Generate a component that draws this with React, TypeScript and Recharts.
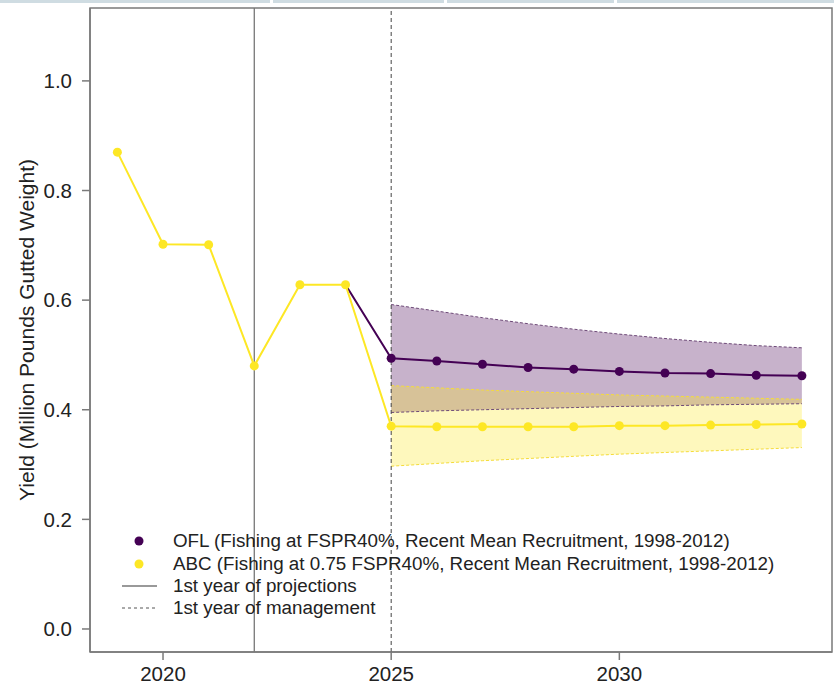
import { ComposedChart, Line, Area, XAxis, YAxis, ReferenceLine, ReferenceArea } from "recharts";

const font = "'Liberation Sans', Arial, sans-serif";
const purple = "#440154";
const yellow = "#fde725";

const years = [2019, 2020, 2021, 2022, 2023, 2024, 2025, 2026, 2027, 2028, 2029, 2030, 2031, 2032, 2033, 2034];
const abc = [0.87, 0.702, 0.701, 0.48, 0.628, 0.628, 0.37, 0.369, 0.369, 0.369, 0.369, 0.371, 0.371, 0.372, 0.373, 0.374];
const ofl = [null, null, null, null, null, 0.628, 0.494, 0.489, 0.483, 0.477, 0.474, 0.47, 0.467, 0.466, 0.463, 0.462];
const oflLow = [null, null, null, null, null, null, 0.395, 0.398, 0.4, 0.402, 0.404, 0.406, 0.407, 0.409, 0.41, 0.411];
const oflHigh = [null, null, null, null, null, null, 0.592, 0.58, 0.568, 0.557, 0.547, 0.538, 0.53, 0.523, 0.517, 0.513];
const abcLow = [null, null, null, null, null, null, 0.297, 0.302, 0.307, 0.311, 0.315, 0.319, 0.322, 0.325, 0.328, 0.331];
const abcHigh = [null, null, null, null, null, null, 0.444, 0.44, 0.436, 0.433, 0.43, 0.427, 0.425, 0.423, 0.421, 0.419];

const xDomain = [2018.4, 2034.66];
const yDomain = [-0.042, 1.133];
const xTicks = [2020, 2025, 2030];
const yTicks = [0, 0.2, 0.4, 0.6, 0.8, 1.0];
const projectionYear = 2022;
const managementYear = 2025;

const legendItems = [
  { kind: "dot", color: purple, label: "OFL (Fishing at FSPR40%, Recent Mean Recruitment, 1998-2012)" },
  { kind: "dot", color: yellow, label: "ABC (Fishing at 0.75 FSPR40%, Recent Mean Recruitment, 1998-2012)" },
  { kind: "solid", color: "#777", label: "1st year of projections" },
  { kind: "dashed", color: "#555", label: "1st year of management" },
];

const rows = years.map((year, i) => ({
  year,
  abc: abc[i],
  ofl: ofl[i],
  oflLow: oflLow[i],
  oflHigh: oflHigh[i],
  abcLow: abcLow[i],
  abcHigh: abcHigh[i],
  oflBand: oflLow[i] != null ? [oflLow[i], oflHigh[i]] : null,
  abcBand: abcLow[i] != null ? [abcLow[i], abcHigh[i]] : null,
}));

const axisColor = "#7a7a7a";
const tickStyle = { fill: "#222", fontSize: 20.5, fontFamily: font };

function OflDot(props: any) {
  const { cx, cy, payload, index } = props;
  if (payload.year < managementYear || cy == null) return <g key={`o${index}`} />;
  return <circle key={`o${index}`} cx={cx} cy={cy} r={4.5} fill={purple} />;
}

function Legend() {
  return (
    <div style={{ position: "absolute", left: 118, top: 530, fontFamily: font, fontSize: 18.8, color: "#222" }}>
      {legendItems.map((it) => (
        <div key={it.label} style={{ display: "flex", alignItems: "center", height: 22.4, whiteSpace: "nowrap" }}>
          <svg width={55} height={22} style={{ flex: "none" }}>
            {it.kind === "dot" && <circle cx={21} cy={11} r={4.5} fill={it.color} />}
            {it.kind === "solid" && <line x1={4} x2={39} y1={11} y2={11} stroke={it.color} strokeWidth={1.3} />}
            {it.kind === "dashed" && <line x1={4} x2={39} y1={11} y2={11} stroke={it.color} strokeWidth={1} strokeDasharray="3 3" />}
          </svg>
          <span>{it.label}</span>
        </div>
      ))}
    </div>
  );
}

export default function App() {
  return (
    <div style={{ position: "absolute", left: 0, top: 0, width: 834, height: 685, background: "#fff" }}>
      <div style={{ position: "absolute", top: 0, left: 0, width: 270, height: 3, background: "#cfdce2" }} />
      <div style={{ position: "absolute", top: 0, left: 273, width: 171, height: 3, background: "#cfdce2" }} />
      <div style={{ position: "absolute", top: 0, left: 447, width: 167, height: 3, background: "#cfdce2" }} />
      <div style={{ position: "absolute", top: 0, left: 617, width: 217, height: 3, background: "#cfdce2" }} />
      <ComposedChart width={834} height={685} data={rows} margin={{ top: 8, right: 2, bottom: 0, left: 0 }}>
        <XAxis
          dataKey="year"
          type="number"
          domain={xDomain}
          ticks={xTicks}
          allowDataOverflow
          height={33}
          tickSize={8}
          tickMargin={6}
          tick={tickStyle}
          stroke={axisColor}
          strokeWidth={1.5}
        />
        <YAxis
          type="number"
          domain={yDomain}
          ticks={yTicks}
          allowDataOverflow
          width={90}
          tickSize={8}
          tickMargin={10}
          tick={tickStyle}
          tickFormatter={(v: number) => v.toFixed(1)}
          stroke={axisColor}
          strokeWidth={1.5}
          label={{
            value: "Yield (Million Pounds Gutted Weight)",
            angle: -90,
            position: "insideLeft",
            offset: 27,
            style: { textAnchor: "middle", fill: "#222", fontSize: 21, fontFamily: font },
          }}
        />
        <ReferenceArea
          x1={xDomain[0]}
          x2={xDomain[1]}
          y1={yDomain[0]}
          y2={yDomain[1]}
          fill="none"
          fillOpacity={0}
          stroke={axisColor}
          strokeWidth={1.5}
          ifOverflow="visible"
        />
        <Area dataKey="oflBand" stroke="none" fill={purple} fillOpacity={0.3} isAnimationActive={false} />
        <Area dataKey="abcBand" stroke="none" fill={yellow} fillOpacity={0.3} isAnimationActive={false} />
        <Line dataKey="oflHigh" stroke="#6e4a78" strokeWidth={1} strokeDasharray="3 2" dot={false} isAnimationActive={false} />
        <Line dataKey="oflLow" stroke="#6e4a78" strokeWidth={1} strokeDasharray="3 2" dot={false} isAnimationActive={false} />
        <Line dataKey="abcHigh" stroke="#f5dc3a" strokeWidth={1} strokeDasharray="3 2" dot={false} isAnimationActive={false} />
        <Line dataKey="abcLow" stroke="#f5dc3a" strokeWidth={1} strokeDasharray="3 2" dot={false} isAnimationActive={false} />
        <ReferenceLine x={projectionYear} stroke="#777" strokeWidth={1.3} />
        <ReferenceLine x={managementYear} stroke="#444" strokeWidth={1} strokeDasharray="4 3" />
        <Line dataKey="ofl" stroke={purple} strokeWidth={2} dot={OflDot} activeDot={false} isAnimationActive={false} />
        <Line dataKey="abc" stroke={yellow} strokeWidth={2} dot={{ r: 4.5, fill: yellow, stroke: "none" }} activeDot={false} isAnimationActive={false} />
      </ComposedChart>
      <Legend />
    </div>
  );
}
